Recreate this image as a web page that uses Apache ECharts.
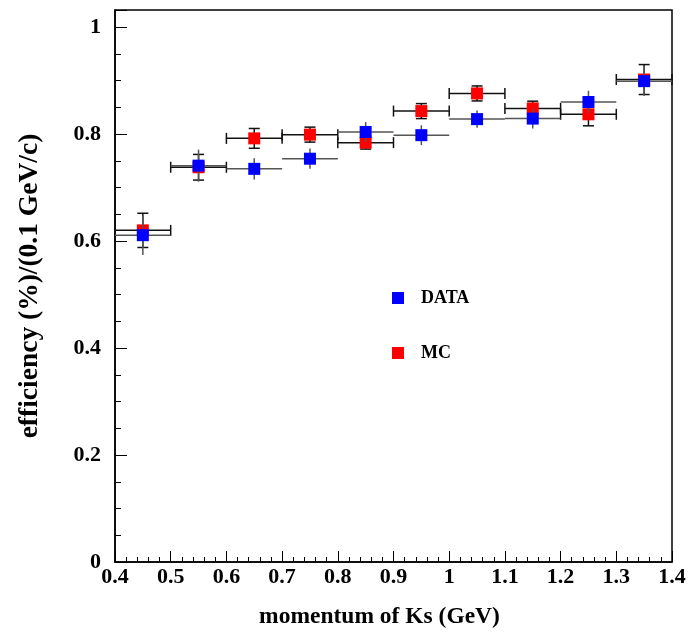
<!DOCTYPE html>
<html>
<head>
<meta charset="utf-8">
<script src="https://cdn.jsdelivr.net/npm/echarts@6/dist/echarts.min.js"></script>
<style>
  html, body { margin: 0; padding: 0; background: #fff; }
  #main { width: 690px; height: 634px; }
</style>
</head>
<body>
<div id="main"></div>
<script>
// bin centres (GeV), half bin width 0.05
var momentum = [0.45, 0.55, 0.65, 0.75, 0.85, 0.95, 1.05, 1.15, 1.25, 1.35];
var xErr = 0.05;

// DATA
var dataEff = [0.611, 0.741, 0.735, 0.754, 0.804, 0.798, 0.828, 0.829, 0.860, 0.899];
var dataErr = [0.037, 0.030, 0.020, 0.019, 0.0185, 0.0185, 0.016, 0.0185, 0.021, 0.028];

// MC
var mcEff = [0.620, 0.738, 0.792, 0.799, 0.784, 0.843, 0.876, 0.848, 0.837, 0.902];
var mcErr = [0.032, 0.024, 0.0185, 0.014, 0.012, 0.014, 0.014, 0.0135, 0.0215, 0.028];

var fontSerif = '"Liberation Serif", "DejaVu Serif", serif';

function pts(y) {
  return momentum.map(function (x, i) { return [x, y[i]]; });
}
function errData(y, e) {
  return momentum.map(function (x, i) { return [x, y[i], e[i]]; });
}

// 误差棒
function makeErr(color, caps) {
  return function (params, api) {
    var x = api.value(0), y = api.value(1), e = api.value(2);
    var l = api.coord([x - xErr, y]);
    var r = api.coord([x + xErr, y]);
    var t = api.coord([x, y + e]);
    var b = api.coord([x, y - e]);
    var st = { stroke: color, lineWidth: 1.5 };
    var kids = [
      { type: 'line', shape: { x1: l[0], y1: l[1], x2: r[0], y2: r[1] }, style: st },
      { type: 'line', shape: { x1: t[0], y1: t[1], x2: b[0], y2: b[1] }, style: st }
    ];
    if (caps) {
      var c = 5.5;
      kids.push({ type: 'line', shape: { x1: t[0] - c, y1: t[1], x2: t[0] + c, y2: t[1] }, style: st });
      kids.push({ type: 'line', shape: { x1: b[0] - c, y1: b[1], x2: b[0] + c, y2: b[1] }, style: st });
      kids.push({ type: 'line', shape: { x1: l[0], y1: l[1] - c, x2: l[0], y2: l[1] + c }, style: st });
      kids.push({ type: 'line', shape: { x1: r[0], y1: r[1] - c, x2: r[0], y2: r[1] + c }, style: st });
    }
    return { type: 'group', children: kids };
  };
}

var myChart = echarts.init(document.getElementById('main'));

var option = {
  animation: false,
  backgroundColor: '#fff',
  grid: {
    left: 115, right: 18, top: 10, bottom: 66,
    show: true, borderColor: '#000', borderWidth: 1.5
  },
  legend: {
    orient: 'vertical',
    left: 387, top: 284,
    data: ['DATA', 'MC'],
    icon: 'rect',
    itemWidth: 12, itemHeight: 12,
    itemGap: 37,
    textStyle: {
      fontFamily: fontSerif, fontWeight: 'bold', fontSize: 18,
      color: '#000', padding: [0, 0, 0, 12], lineHeight: 17
    }
  },
  xAxis: {
    type: 'value',
    min: 0.4, max: 1.4, interval: 0.1,
    name: 'momentum of Ks (GeV)',
    nameLocation: 'middle',
    nameGap: 43,
    nameTextStyle: {
      fontFamily: fontSerif, fontWeight: 'bold', fontSize: 23.5, color: '#000',
      padding: [0, 28, 0, 0]
    },
    axisLine: { lineStyle: { color: '#000', width: 1.5 } },
    axisTick: { inside: true, length: 11, lineStyle: { color: '#000', width: 1 } },
    minorTick: { show: true, splitNumber: 5, length: 5, lineStyle: { color: '#000', width: 1 } },
    splitLine: { show: false },
    axisLabel: {
      fontFamily: fontSerif, fontWeight: 'bold', fontSize: 22, color: '#000', margin: 4,
      formatter: function (v) { return String(Math.round(v * 10) / 10); }
    }
  },
  yAxis: {
    type: 'value',
    min: 0, max: 1.032, interval: 0.2,
    name: 'efficiency (%)/(0.1 GeV/c)',
    nameLocation: 'middle',
    nameGap: 71,
    nameRotate: 90,
    nameTextStyle: { fontFamily: fontSerif, fontWeight: 'bold', fontSize: 27.5, color: '#000' },
    axisLine: { lineStyle: { color: '#000', width: 1.5 } },
    axisTick: { inside: true, length: 12, lineStyle: { color: '#000', width: 1 } },
    minorTick: { show: true, splitNumber: 4, length: 6, lineStyle: { color: '#000', width: 1 } },
    splitLine: { show: false },
    axisLabel: {
      fontFamily: fontSerif, fontWeight: 'bold', fontSize: 22, color: '#000', margin: 14,
      showMaxLabel: false,
      formatter: function (v) { return String(Math.round(v * 10) / 10); }
    }
  },
  series: [
    {
      name: 'MC_err', type: 'custom', z: 2,
      renderItem: makeErr('#111', true),
      data: errData(mcEff, mcErr)
    },
    {
      name: 'MC', type: 'scatter', z: 3,
      symbol: 'rect', symbolSize: 12,
      itemStyle: { color: '#ff0000', opacity: 1 },
      data: pts(mcEff)
    },
    {
      name: 'DATA_err', type: 'custom', z: 4,
      renderItem: makeErr('#555', false),
      data: errData(dataEff, dataErr)
    },
    {
      name: 'DATA', type: 'scatter', z: 5,
      symbol: 'rect', symbolSize: 12,
      itemStyle: { color: '#0000ff', opacity: 1 },
      data: pts(dataEff)
    }
  ]
};

myChart.setOption(option);
</script>
</body>
</html>
